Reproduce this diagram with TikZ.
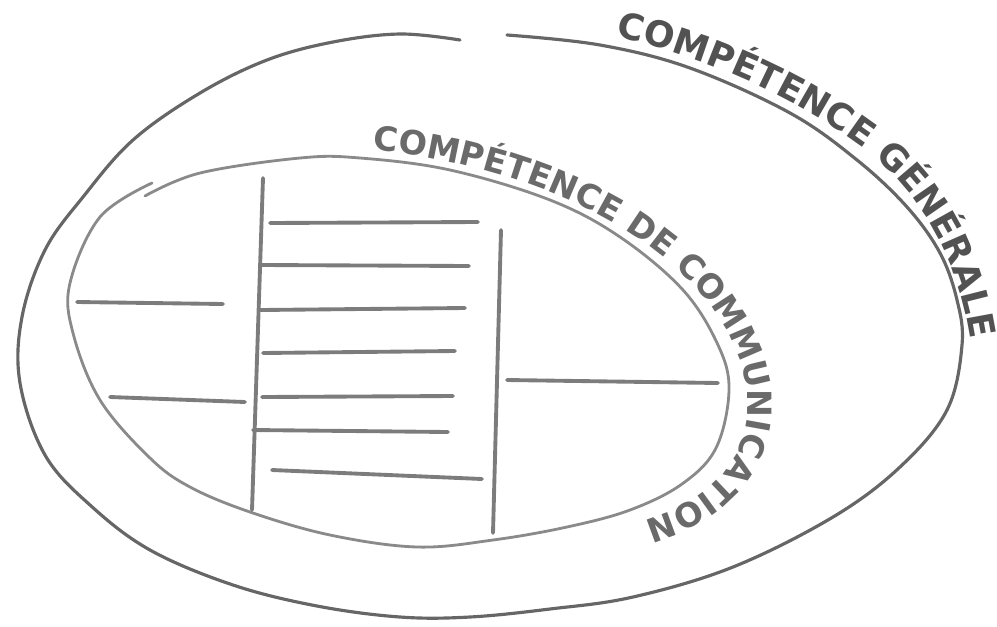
\documentclass[tikz,border=0pt]{standalone}
\usepackage{fontspec}
\newfontfamily\sketchfont{DejaVu Sans}
\usepackage{tikz}
\usetikzlibrary{decorations.text}

\definecolor{penouter}{HTML}{666666}
\definecolor{peninner}{HTML}{8A8A8A}
\definecolor{penrule}{HTML}{7C7C7C}
\definecolor{inkouter}{HTML}{525252}
\definecolor{inkinner}{HTML}{6A6A6A}

\begin{document}
\begin{tikzpicture}[
    x=0.02cm,
    y=-0.02cm,
    outerline/.style={
        draw=penouter,
        line width=1.8pt,
        line cap=round
    },
    innerline/.style={
        draw=peninner,
        line width=1.6pt,
        line cap=round
    },
    ruleline/.style={
        draw=penrule,
        line width=2.2pt,
        line cap=round
    }
]

\useasboundingbox (0,0) rectangle (997,626);

% ==========================================================
% GENERAL COMPETENCE (OUTER SHAPE)
% ==========================================================

\draw[outerline] plot[smooth, tension=0.6] coordinates {
    (507,35) (600,45) (690,68) (790,113) (857,160) (907,207)
    (940,253) (957,300) (962,345) (947,410) (900,467) (833,517)
    (733,567) (633,597) (550,609) (470,617) (400,617) (317,606)
    (233,585) (150,550) (90,505) (45,455) (20,383) (22,317)
    (45,250) (83,197) (133,140) (200,93) (267,60) (333,42)
    (400,34) (460,40)
};

\path[decorate, decoration={
        text along path,
        text align=center,
        text color=inkouter,
        text={|\sketchfont\bfseries\fontsize{20.5}{20.5}\selectfont|COMPÉTENCE GÉNÉRALE}
    }]
    (596,33) .. controls (700,52) and (800,100) .. (866,150)
    .. controls (922,195) and (963,262) .. (973,360);

% ==========================================================
% COMMUNICATIVE COMPETENCE (INNER SHAPE)
% ==========================================================

\draw[innerline] plot[smooth, tension=0.6] coordinates {
    (145,196) (200,173) (300,158) (360,158) (450,170) (550,200)
    (620,237) (683,290) (718,345) (729,390) (716,448) (682,484)
    (630,510) (567,527) (493,540) (417,547) (330,535) (250,512)
    (190,487) (150,458) (100,400) (73,333) (70,283) (100,217)
    (152,183)
};

\path[decorate, decoration={
        text along path,
        text align=center,
        text color=inkinner,
        text={|\sketchfont\bfseries\fontsize{19}{19}\selectfont|COMPÉTENCE DE COMMUNICATION}
    }]
    (350,148) .. controls (560,163) and (722,262) .. (746,382)
    .. controls (760,465) and (695,512) .. (622,526);

% ==========================================================
% COLUMNS AND LINES
% ==========================================================

\draw[ruleline] (263,178) -- (252,510);
\draw[ruleline] (501,230) -- (493,533);

\draw[ruleline] (77,302) -- (223,304);
\draw[ruleline] (110,397) -- (245,402);

\foreach \xa/\ya/\xb/\yb in {
    270/223/478/222,
    262/265/469/266,
    260/310/465/308,
    263/353/455/351,
    262/397/453/396,
    253/430/448/432,
    272/470/482/479}
{
    \draw[ruleline] (\xa,\ya) -- (\xb,\yb);
}

\draw[ruleline] (507,380) -- (718,383);

\end{tikzpicture}
\end{document}
